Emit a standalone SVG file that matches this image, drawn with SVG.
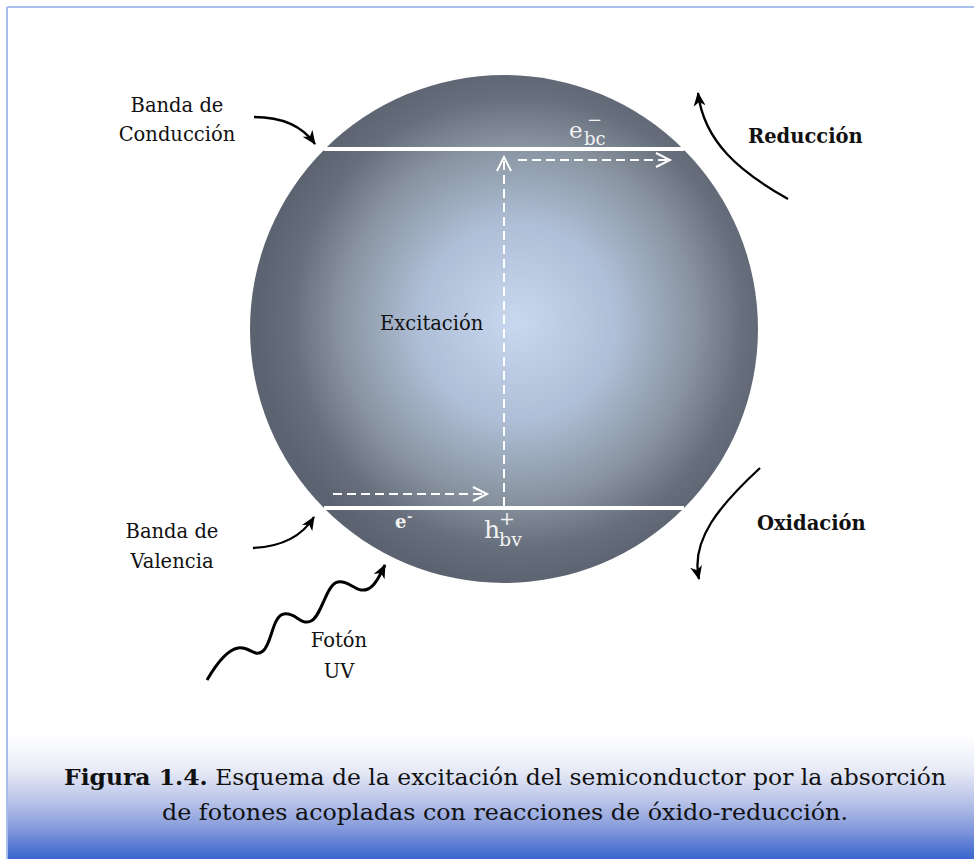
<svg xmlns="http://www.w3.org/2000/svg" width="974" height="859" viewBox="0 0 974 859">
<defs>
<style>
.lbl{font-family:"DejaVu Serif","Liberation Serif",serif;font-size:19.5px;fill:#111}
.bold{font-weight:bold}
.math{font-family:"DejaVu Serif","Liberation Serif",serif;fill:#f2f2f2}
.band{stroke:#ffffff;stroke-width:4;fill:none}
.dash{stroke:#ffffff;stroke-width:2;stroke-dasharray:9,5;fill:none}
.curve{stroke:#000;stroke-width:2.3;fill:none}
.cap{font-family:"DejaVu Serif","Liberation Serif",serif;font-size:23px;fill:#111}
</style>
<radialGradient id="sph" cx="518" cy="322" r="262" gradientUnits="userSpaceOnUse">
<stop offset="0" stop-color="#c7d8ef"/>
<stop offset="0.38" stop-color="#aebed6"/>
<stop offset="0.68" stop-color="#88939f"/>
<stop offset="0.86" stop-color="#676f7c"/>
<stop offset="1" stop-color="#5c6370"/>
</radialGradient>
<linearGradient id="capg" x1="0" y1="735" x2="0" y2="859" gradientUnits="userSpaceOnUse">
<stop offset="0" stop-color="#ffffff"/>
<stop offset="0.28" stop-color="#e8ebf7"/>
<stop offset="0.52" stop-color="#bcc6e9"/>
<stop offset="0.75" stop-color="#869bdc"/>
<stop offset="0.9" stop-color="#5679d3"/>
<stop offset="1" stop-color="#3a66cf"/>
</linearGradient>
<marker id="ah" markerUnits="userSpaceOnUse" markerWidth="14" markerHeight="12" refX="13" refY="6" orient="auto">
<path d="M0,0 L14,6 L0,12 L4,6 z" fill="#000"/>
</marker>
<marker id="ch" markerUnits="userSpaceOnUse" markerWidth="18" markerHeight="18" refX="15" refY="8" orient="auto">
<path d="M1,1 L15,8 L1,15" fill="none" stroke="#fff" stroke-width="2"/>
</marker>
</defs>
<rect width="974" height="859" fill="#fff"/>
<rect x="8" y="730" width="966" height="129" fill="url(#capg)"/>
<line x1="7" y1="7" x2="974" y2="7" stroke="#a9bee9" stroke-width="2"/>
<line x1="7" y1="7" x2="7" y2="859" stroke="#a9bee9" stroke-width="2"/>

<g id="sphere">
<circle cx="504" cy="329" r="254" fill="url(#sph)"/>
<line class="band" x1="324" y1="149" x2="684" y2="149"/>
<line class="band" x1="324" y1="508" x2="684" y2="508"/>
</g>

<g id="connectors">
<line class="dash" x1="504" y1="506" x2="504" y2="157" marker-end="url(#ch)"/>
<line class="dash" x1="518" y1="160" x2="670" y2="160" marker-end="url(#ch)"/>
<line class="dash" x1="333" y1="494" x2="487" y2="494" marker-end="url(#ch)"/>
<path class="curve" d="M254,117 Q296,117 315,144" marker-end="url(#ah)"/>
<path class="curve" d="M253,548 Q296,546 314,517" marker-end="url(#ah)"/>
<path class="curve" d="M788,199 C740,172 704,142 698,93" marker-end="url(#ah)"/>
<path class="curve" d="M760,468 C720,505 690,540 699,579" marker-end="url(#ah)"/>
<path class="curve" style="stroke-width:3" d="M207,680 C214,668 226,650 238,648 C250,646 254,658 263,651 C272,644 272,616 284,614 C296,612 300,626 311,621 C322,616 326,584 338,582 C350,580 356,594 368,589 C375,586 380,575 385,565" marker-end="url(#ah)"/>
</g>

<g id="label-conduccion">
<text class="lbl" x="177" y="112" text-anchor="middle">Banda de</text>
<text class="lbl" x="177" y="141" text-anchor="middle">Conducción</text>
</g>
<g id="label-valencia">
<text class="lbl" x="172" y="538" text-anchor="middle">Banda de</text>
<text class="lbl" x="172" y="568" text-anchor="middle">Valencia</text>
</g>
<g id="label-foton">
<text class="lbl" x="339" y="647" text-anchor="middle">Fotón</text>
<text class="lbl" x="339" y="678" text-anchor="middle">UV</text>
</g>
<g id="label-reduccion">
<text class="lbl bold" x="748" y="143">Reducción</text>
</g>
<g id="label-oxidacion">
<text class="lbl bold" x="757" y="530">Oxidación</text>
</g>
<g id="label-excitacion">
<text class="lbl" x="380" y="330" font-size="20">Excitación</text>
</g>
<g id="label-ebc">
<text class="math" x="569" y="138" font-size="23">e</text>
<text class="math" x="584" y="145" font-size="18">bc</text>
<text class="math" x="587" y="126" font-size="18">−</text>
</g>
<g id="label-e">
<text class="math" x="395" y="528" font-size="18" font-weight="bold">e</text>
<text class="math" x="407" y="521" font-size="13" font-weight="bold">-</text>
</g>
<g id="label-hbv">
<text class="math" x="484" y="538" font-size="25">h</text>
<text class="math" x="499" y="525" font-size="19">+</text>
<text class="math" x="499" y="546" font-size="19">bv</text>
</g>

<g id="caption">
<text class="cap" x="505" y="785" text-anchor="middle" textLength="882" lengthAdjust="spacingAndGlyphs"><tspan font-weight="bold">Figura 1.4.</tspan> Esquema de la excitación del semiconductor por la absorción</text>
<text class="cap" x="505" y="820" text-anchor="middle" textLength="686" lengthAdjust="spacingAndGlyphs">de fotones acopladas con reacciones de óxido-reducción.</text>
</g>
</svg>
